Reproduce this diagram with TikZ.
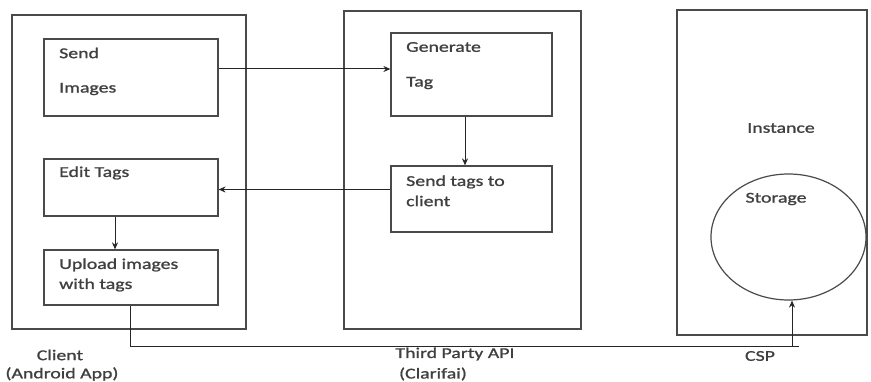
\documentclass[tikz,border=0pt]{standalone}
\usepackage{fontspec}
\newfontfamily\diagfont[FakeStretch=1.32,FakeBold=1.2]{Carlito}
\usetikzlibrary{arrows.meta,shapes.geometric}
\definecolor{linec}{HTML}{4A4A4A}
\definecolor{textc}{HTML}{404040}
\begin{document}
\begin{tikzpicture}[x=1pt,y=-1pt,
  box/.style={draw=linec,line width=1.2pt,rectangle,inner sep=0pt},
  lbl/.style={text=textc,font=\diagfont\fontsize{15}{18}\selectfont,inner sep=0pt,anchor=west},
  clbl/.style={text=textc,font=\diagfont\fontsize{15}{18}\selectfont,inner sep=0pt},
  conn/.style={draw=black!85,line width=1pt},
  arr/.style={conn,-{Stealth[length=7pt,width=6pt]}}]
\useasboundingbox (0,0) rectangle (871,382);
% outer containers
\node[box,minimum width=234pt,minimum height=314pt] (client) at (129,172) {};
\node[box,minimum width=237pt,minimum height=318pt] (tp) at (462.5,170) {};
\node[box,minimum width=190pt,minimum height=325pt] (inst) at (772,172.5) {};
% inner boxes
\node[box,minimum width=174pt,minimum height=77pt] (send) at (131,77.5) {};
\node[box,minimum width=174pt,minimum height=57pt] (edit) at (131,187.5) {};
\node[box,minimum width=174pt,minimum height=55pt] (upload) at (131,277.5) {};
\node[box,minimum width=161pt,minimum height=83pt] (gen) at (471.5,74.5) {};
\node[box,minimum width=161pt,minimum height=66pt] (sendtags) at (471.5,199) {};
\node[draw=linec,line width=1.2pt,ellipse,minimum width=155pt,minimum height=126pt,inner sep=0pt] (storage) at (788.5,237) {};
% texts
\node[lbl] (t1) at (59,53) {Send};
\node[lbl] (t2) at (59,89) {Images};
\node[lbl] (t3) at (59,173) {Edit Tags};
\node[lbl] (t4) at (59,265) {Upload images};
\node[lbl] (t5) at (59,285) {with tags};
\node[lbl] (t6) at (406,47) {Generate};
\node[lbl] (t7) at (406,83) {Tag};
\node[lbl] (t8) at (406,182) {Send tags to};
\node[lbl] (t9) at (406,201) {client};
\node[clbl] (t10) at (781,128) {Instance};
\node[clbl] (t11) at (776,199) {Storage};
\node[clbl] (c1) at (60,355) {Client};
\node[clbl] (c2) at (62,374) {(Android App)};
\node[clbl] (c3) at (455,354) {Third Party API};
\node[clbl] (c4) at (433,374) {(Clarifai)};
\node[clbl] (c5) at (760,356) {CSP};
% helper coordinates
\coordinate (ya) at (0,69);
\coordinate (xb) at (465,0);
\coordinate (yc) at (0,189.5);
\coordinate (xd) at (115,0);
\coordinate (xe) at (130,0);
\coordinate (bend) at (799,347);
\coordinate (xf) at (792,0);
\coordinate (cspfoot) at (792,347);
% connectors
\draw[arr] (send.east |- ya) -- (gen.west |- ya);
\draw[arr] (gen.south -| xb) -- (sendtags.north -| xb);
\draw[arr] (sendtags.west |- yc) -- (edit.east |- yc);
\draw[arr] (edit.south -| xd) -- (upload.north -| xd);
\draw[conn] (upload.south -| xe) |- (bend);
\draw[arr] (cspfoot) -- (storage.south -| xf);
\end{tikzpicture}
\end{document}
